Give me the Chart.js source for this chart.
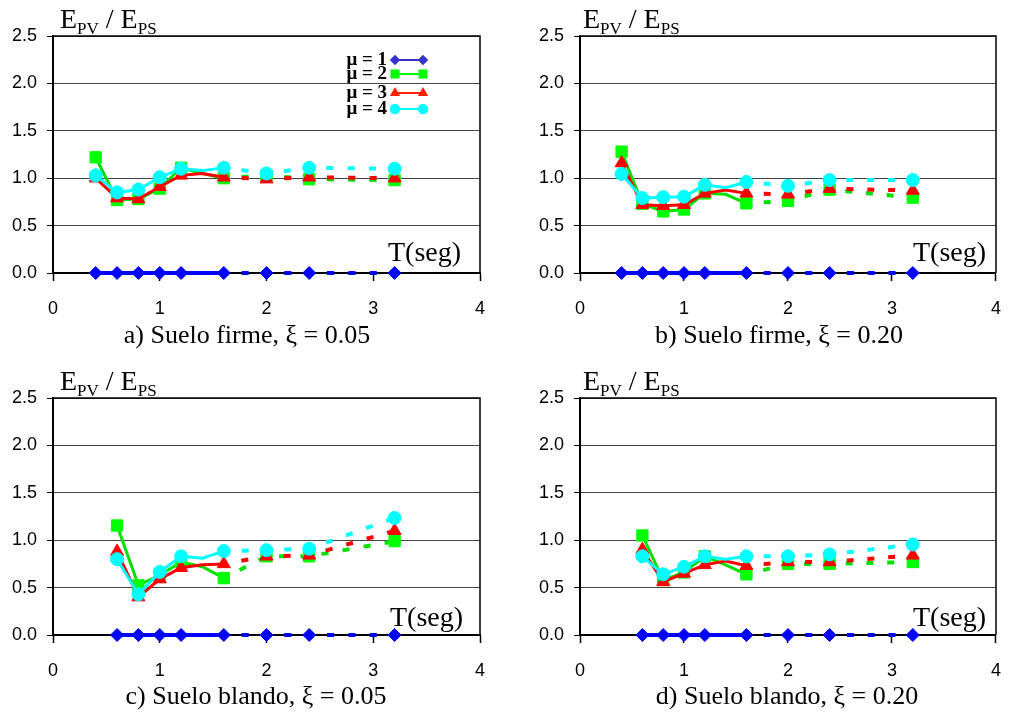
<!DOCTYPE html>
<html lang="es">
<head>
<meta charset="utf-8">
<title>EPV / EPS</title>
<script src="https://cdn.jsdelivr.net/npm/chart.js@4.4.0/dist/chart.umd.min.js"></script>
<style>
  body { margin: 0; background: #fff; }
  #fig { position: relative; width: 1018px; height: 715px; overflow: hidden; }
  .panel { position: absolute; }
  .ylab, .tlab, .cap {
    position: absolute; color: #000; white-space: nowrap;
    font-family: "Liberation Serif", "Times New Roman", serif;
  }
  .ylab { font-size: 28px; line-height: 28px; }
  .ylab sub { font-size: 17px; vertical-align: -6px; line-height: 1; }
  .tlab { font-size: 28px; line-height: 28px; }
  .cap { font-size: 26px; line-height: 26px; width: 320px; text-align: center; }
</style>
</head>
<body>
<div id="fig">
  <div class="panel" id="pa" style="left:0;top:0;width:509px;height:325px"><canvas id="ca"></canvas></div>
  <div class="panel" id="pb" style="left:527px;top:0;width:491px;height:325px"><canvas id="cb"></canvas></div>
  <div class="panel" id="pc" style="left:0;top:362px;width:509px;height:325px"><canvas id="cc"></canvas></div>
  <div class="panel" id="pd" style="left:527px;top:362px;width:491px;height:325px"><canvas id="cd"></canvas></div>

  <div class="ylab" style="left:60px;top:5px">E<sub>PV</sub> / E<sub>PS</sub></div>
  <div class="ylab" style="left:583px;top:5px">E<sub>PV</sub> / E<sub>PS</sub></div>
  <div class="ylab" style="left:60px;top:367px">E<sub>PV</sub> / E<sub>PS</sub></div>
  <div class="ylab" style="left:583px;top:367px">E<sub>PV</sub> / E<sub>PS</sub></div>

  <div class="tlab" style="left:388px;top:238px">T(seg)</div>
  <div class="tlab" style="left:913px;top:238px">T(seg)</div>
  <div class="tlab" style="left:390px;top:603px">T(seg)</div>
  <div class="tlab" style="left:913px;top:603px">T(seg)</div>

  <div class="cap" style="left:87px;top:322px">a) Suelo firme, ξ = 0.05</div>
  <div class="cap" style="left:619px;top:322px">b) Suelo firme, ξ = 0.20</div>
  <div class="cap" style="left:96px;top:683px">c) Suelo blando, ξ = 0.05</div>
  <div class="cap" style="left:627px;top:683px">d) Suelo blando, ξ = 0.20</div>
</div>

<script>
// Periodos T (seg); desde T_DOTTED la línea se dibuja punteada
const T = [0.4, 0.6, 0.8, 1.0, 1.2, 1.4, 1.6, 2.0, 2.4, 3.2];
const T_DOTTED = 1.6;
const T_NO_MARK = [1.4];

const MU_LABELS = ['\u03bc = 1', '\u03bc = 2', '\u03bc = 3', '\u03bc = 4'];

// μ = 1 vale cero en todos los casos (suelo blando empieza en T = 0.6)
const firme_mu1  = [0, 0, 0, 0, 0, 0, 0, 0, 0, 0];
const blando_mu1 = [null, 0, 0, 0, 0, 0, 0, 0, 0, 0];

// a) Suelo firme, ξ = 0.05
const firme05_mu2 = [1.22, 0.77, 0.78, 0.89, 1.11, 1.05, 1.00, 1.03, 0.99, 0.98];
const firme05_mu3 = [1.00, 0.79, 0.78, 0.91, 1.03, 1.05, 1.01, 0.99, 1.01, 1.00];
const firme05_mu4 = [1.03, 0.85, 0.88, 1.01, 1.10, 1.08, 1.11, 1.05, 1.11, 1.10];

// b) Suelo firme, ξ = 0.20
const firme20_mu2 = [1.28, 0.73, 0.65, 0.67, 0.84, 0.83, 0.735, 0.76, 0.88, 0.795];
const firme20_mu3 = [1.16, 0.72, 0.71, 0.72, 0.84, 0.875, 0.84, 0.83, 0.89, 0.87];
const firme20_mu4 = [1.045, 0.79, 0.80, 0.805, 0.93, 0.90, 0.96, 0.92, 0.98, 0.98];

// c) Suelo blando, ξ = 0.05
const blando05_mu2 = [null, 1.155, 0.525, 0.63, 0.77, 0.72, 0.60, 0.83, 0.83, 0.99];
const blando05_mu3 = [null, 0.88, 0.40, 0.59, 0.71, 0.74, 0.75, 0.83, 0.84, 1.10];
const blando05_mu4 = [null, 0.80, 0.43, 0.665, 0.83, 0.81, 0.885, 0.895, 0.91, 1.235];

// d) Suelo blando, ξ = 0.20
const blando20_mu2 = [null, 1.05, 0.58, 0.66, 0.83, 0.74, 0.64, 0.75, 0.75, 0.77];
const blando20_mu3 = [null, 0.90, 0.56, 0.65, 0.74, 0.78, 0.73, 0.77, 0.77, 0.84];
const blando20_mu4 = [null, 0.83, 0.64, 0.72, 0.83, 0.80, 0.83, 0.83, 0.85, 0.955];

const Y_TICKS = [0, 0.5, 1.0, 1.5, 2.0, 2.5];
const X_TICKS = [0, 1, 2, 3, 4];

// estilo de cada serie μ (order: el menor se pinta encima)
const STYLES = [
  { line: '#0000ff', fill: '#0000ff', legend: '#3333cc', shape: 'rectRot',  r: 6.5, width: 4, order: 3 },
  { line: '#00e000', fill: '#00ff00', legend: '#00ff00', shape: 'rect',     r: 8,   width: 3, order: 2 },
  { line: '#ff0000', fill: '#ff0000', legend: '#ff2200', shape: 'triangle', r: 7.5, width: 3, order: 1 },
  { line: '#00ffff', fill: '#00ffff', legend: '#00ffff', shape: 'circle',   r: 6.5, width: 3, order: 0 },
];

function dotStep(chart) {
  const x = chart.scales.x;
  return x.getPixelForValue(0.2) - x.getPixelForValue(0);
}

function isDotted(ctx) {
  return ctx.p0.parsed.x >= T_DOTTED;
}

function buildDatasets(series) {
  return series.map((ys, k) => {
    const st = STYLES[k];
    return {
      label: MU_LABELS[k],
      data: T.map((t, i) => ({ x: t, y: ys[i] })),
      clip: false,
      borderColor: st.line,
      backgroundColor: st.fill,
      borderWidth: st.width,
      pointStyle: st.shape,
      pointBackgroundColor: st.fill,
      pointBorderColor: st.fill,
      pointBorderWidth: 1,
      pointRadius: ctx => T_NO_MARK.includes(T[ctx.dataIndex]) ? 0 : st.r,
      order: st.order,
      segment: {
        borderDash: ctx => isDotted(ctx) ? [dotStep(ctx.chart) / 3, dotStep(ctx.chart) * 2 / 3] : undefined,
        borderDashOffset: ctx => isDotted(ctx) ? dotStep(ctx.chart) / 6 : undefined,
        borderWidth: ctx => isDotted(ctx) ? 4 : undefined,
      },
    };
  });
}

// marco superior y derecho del área de trazado
const framePlugin = {
  id: 'frame',
  beforeDatasetsDraw(chart) {
    const { ctx, chartArea: a } = chart;
    ctx.save();
    ctx.strokeStyle = '#000';
    ctx.lineWidth = 1.5;
    ctx.beginPath();
    ctx.moveTo(a.left, a.top);
    ctx.lineTo(a.right, a.top);
    ctx.lineTo(a.right, a.bottom);
    ctx.stroke();
    ctx.restore();
  },
};

function drawMark(ctx, shape, x, y, r) {
  ctx.beginPath();
  if (shape === 'rectRot') {
    ctx.moveTo(x, y - r); ctx.lineTo(x + r, y); ctx.lineTo(x, y + r); ctx.lineTo(x - r, y);
  } else if (shape === 'rect') {
    const s = r * Math.SQRT1_2;
    ctx.rect(x - s, y - s, 2 * s, 2 * s);
  } else if (shape === 'triangle') {
    const h = r * 0.5, w = r * Math.sqrt(3) / 2;
    ctx.moveTo(x, y - r); ctx.lineTo(x + w, y + h); ctx.lineTo(x - w, y + h);
  } else {
    ctx.arc(x, y, r, 0, Math.PI * 2);
  }
  ctx.closePath();
  ctx.fill();
}

// leyenda de μ dentro del panel a)
const muLegend = {
  id: 'muLegend',
  afterDraw(chart) {
    const { ctx, chartArea: a } = chart;
    const rows = [24, 38, 57, 73];
    const xText = a.left + 334, x0 = a.left + 342, x1 = a.left + 370;
    ctx.save();
    ctx.font = 'bold 19px "Liberation Serif", serif';
    ctx.textAlign = 'right';
    ctx.textBaseline = 'alphabetic';
    rows.forEach((dy, k) => {
      const st = STYLES[k], y = a.top + dy;
      ctx.fillStyle = '#000';
      ctx.fillText(MU_LABELS[k], xText, y + 5);
      ctx.strokeStyle = st.legend;
      ctx.lineWidth = 2;
      ctx.beginPath(); ctx.moveTo(x0, y); ctx.lineTo(x1, y); ctx.stroke();
      ctx.fillStyle = st.legend;
      drawMark(ctx, st.shape, x0, y, st.r * 0.8);
      drawMark(ctx, st.shape, x1, y, st.r * 0.8);
    });
    ctx.restore();
  },
};

function makePanel(canvasId, series, rightPad, withLegend) {
  const tickFont = { family: '"Liberation Sans", Arial, sans-serif', size: 18 };
  return new Chart(document.getElementById(canvasId), {
    type: 'line',
    data: { datasets: buildDatasets(series) },
    plugins: withLegend ? [framePlugin, muLegend] : [framePlugin],
    options: {
      responsive: true,
      maintainAspectRatio: false,
      animation: false,
      layout: { padding: { left: 0, top: 36, right: rightPad, bottom: 0 } },
      plugins: { legend: { display: false }, tooltip: { enabled: false } },
      scales: {
        x: {
          type: 'linear',
          min: X_TICKS[0],
          max: X_TICKS[X_TICKS.length - 1],
          afterBuildTicks: s => { s.ticks = X_TICKS.map(v => ({ value: v })); },
          afterFit: s => { s.height = 52; },
          ticks: { color: '#000', font: tickFont, padding: 17, maxRotation: 0 },
          grid: { drawOnChartArea: false, drawTicks: true, tickLength: 8, tickColor: '#000', tickWidth: 1.5 },
          border: { color: '#000', width: 2 },
        },
        y: {
          min: Y_TICKS[0],
          max: Y_TICKS[Y_TICKS.length - 1],
          afterBuildTicks: s => { s.ticks = Y_TICKS.map(v => ({ value: v })); },
          afterFit: s => { s.width = 53; },
          ticks: { color: '#000', font: tickFont, padding: 10, callback: v => v.toFixed(1) },
          grid: {
            color: c => (c.tick && c.tick.value === 0) ? '#000' : '#444',
            lineWidth: 1,
            tickLength: 6,
            tickColor: '#000',
          },
          border: { color: '#000', width: 2 },
        },
      },
    },
  });
}

makePanel('ca', [firme_mu1, firme05_mu2, firme05_mu3, firme05_mu4], 29, true);
makePanel('cb', [firme_mu1, firme20_mu2, firme20_mu3, firme20_mu4], 12, false);
makePanel('cc', [blando_mu1, blando05_mu2, blando05_mu3, blando05_mu4], 29, false);
makePanel('cd', [blando_mu1, blando20_mu2, blando20_mu3, blando20_mu4], 12, false);
</script>
</body>
</html>
